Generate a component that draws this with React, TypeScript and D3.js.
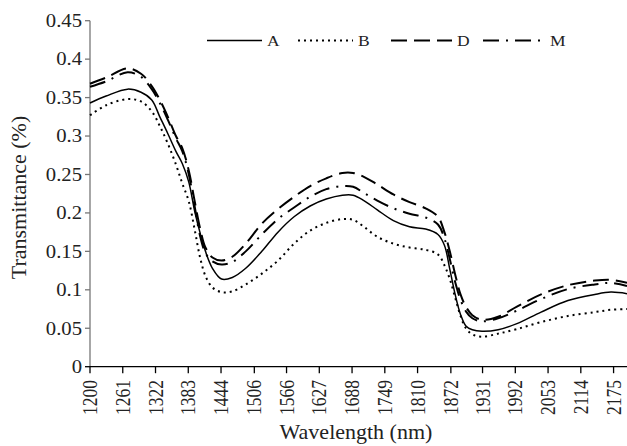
import React from "react";
import * as d3 from "d3";

const wavelengths = [1200, 1230, 1270, 1295, 1315, 1330, 1345, 1360, 1372, 1384, 1395, 1405, 1415, 1428, 1445, 1465, 1490, 1520, 1550, 1580, 1610, 1640, 1670, 1690, 1710, 1735, 1765, 1795, 1825, 1848, 1860, 1870, 1880, 1890, 1900, 1912, 1930, 1960, 1995, 2040, 2090, 2140, 2170, 2200];

const seriesA = [0.343, 0.352, 0.361, 0.357, 0.347, 0.325, 0.303, 0.280, 0.264, 0.240, 0.202, 0.174, 0.150, 0.128, 0.114, 0.116, 0.128, 0.150, 0.175, 0.195, 0.209, 0.218, 0.223, 0.223, 0.216, 0.204, 0.190, 0.182, 0.179, 0.172, 0.158, 0.127, 0.094, 0.068, 0.053, 0.048, 0.046, 0.048, 0.056, 0.071, 0.086, 0.094, 0.097, 0.095];
const seriesB = [0.327, 0.340, 0.348, 0.345, 0.332, 0.313, 0.290, 0.263, 0.238, 0.215, 0.178, 0.142, 0.118, 0.103, 0.097, 0.098, 0.107, 0.121, 0.138, 0.160, 0.177, 0.187, 0.192, 0.191, 0.182, 0.169, 0.160, 0.155, 0.152, 0.146, 0.132, 0.114, 0.090, 0.066, 0.050, 0.042, 0.039, 0.043, 0.049, 0.058, 0.066, 0.071, 0.074, 0.075];
const seriesD = [0.368, 0.376, 0.388, 0.381, 0.365, 0.347, 0.325, 0.300, 0.284, 0.255, 0.215, 0.180, 0.155, 0.142, 0.138, 0.143, 0.160, 0.186, 0.205, 0.221, 0.235, 0.245, 0.252, 0.252, 0.247, 0.237, 0.224, 0.214, 0.206, 0.195, 0.175, 0.150, 0.120, 0.094, 0.078, 0.067, 0.061, 0.065, 0.078, 0.094, 0.106, 0.112, 0.113, 0.109];
const seriesM = [0.364, 0.371, 0.383, 0.377, 0.361, 0.343, 0.321, 0.297, 0.280, 0.250, 0.208, 0.170, 0.148, 0.137, 0.133, 0.136, 0.150, 0.172, 0.192, 0.207, 0.221, 0.231, 0.235, 0.234, 0.226, 0.216, 0.206, 0.199, 0.194, 0.185, 0.167, 0.140, 0.110, 0.087, 0.072, 0.063, 0.059, 0.063, 0.073, 0.088, 0.101, 0.107, 0.109, 0.105];

const seriesNames = ["A", "B", "D", "M"];
const xTicks = [1200, 1261, 1322, 1383, 1444, 1506, 1566, 1627, 1688, 1749, 1810, 1872, 1931, 1992, 2053, 2114, 2175];
const yTicks = [0, 0.05, 0.1, 0.15, 0.2, 0.25, 0.3, 0.35, 0.4, 0.45];
const yTickLabels = ["0", "0.05", "0.1", "0.15", "0.2", "0.25", "0.3", "0.35", "0.4", "0.45"];

const W = 627;
const H = 446;
const FONT = "'Liberation Serif', 'Times New Roman', serif";

const styles: Record<string, { dash: string; width: number }> = {
  A: { dash: "none", width: 1.5 },
  B: { dash: "2,4", width: 2 },
  D: { dash: "16,7", width: 2 },
  M: { dash: "16,7,2,7", width: 2 },
};

export default function App() {
  const x = d3.scaleLinear().domain([1200, 2200]).range([90, 627]);
  const y = d3.scaleLinear().domain([0, 0.45]).range([366.7, 20.7]);
  const data: Record<string, number[]> = { A: seriesA, B: seriesB, D: seriesD, M: seriesM };
  const line = d3
    .line<number>()
    .x((_, i) => x(wavelengths[i]))
    .y((d) => y(d))
    .curve(d3.curveCatmullRom.alpha(0.5));

  const legendX = [207, 298, 391, 483];
  const legendLen = [55, 55, 61, 62];
  const legendY = 40.5;

  return (
    <svg width={W} height={H} style={{ position: "absolute", left: 0, top: 0, background: "#fff", fontFamily: FONT }}>
      <rect x={0} y={0} width={W} height={H} fill="#fff" />
      <line x1={90} x2={90} y1={y(0.45)} y2={y(0)} stroke="#777" strokeWidth={1.3} />
      {yTicks.map((t, i) => (
        <g key={"yt" + i}>
          <line x1={85} x2={90} y1={y(t)} y2={y(t)} stroke={i === 0 ? "#000" : "#777"} strokeWidth={1.3} />
          <text
            transform={`translate(82,${y(t)}) scale(1.15,1)`}
            textAnchor="end"
            dy="0.35em"
            fontSize={18}
            fill="#222"
            style={{ fontFamily: FONT }}
          >
            {yTickLabels[i]}
          </text>
        </g>
      ))}
      <line x1={90} x2={627} y1={y(0)} y2={y(0)} stroke="#000" strokeWidth={1.3} />
      {xTicks.map((t) => (
        <g key={"xt" + t}>
          <line x1={x(t)} x2={x(t)} y1={y(0)} y2={y(0) + 6.5} stroke="#000" strokeWidth={1.3} />
          <text
            transform={`translate(${x(t)},380) scale(1.15,1) rotate(-90)`}
            textAnchor="end"
            dy="0.35em"
            fontSize={17.5}
            fill="#222"
            style={{ fontFamily: FONT }}
          >
            {t}
          </text>
        </g>
      ))}
      <text x={356} y={439} textAnchor="middle" fontSize={22} fill="#222" style={{ fontFamily: FONT }}>
        Wavelength (nm)
      </text>
      <text transform="translate(26,197.5) rotate(-90)" textAnchor="middle" fontSize={22} fill="#222" style={{ fontFamily: FONT }}>
        Transmittance (%)
      </text>
      {seriesNames.map((n) => (
        <path
          key={n}
          d={line(data[n]) || ""}
          fill="none"
          stroke="#000"
          strokeWidth={styles[n].width}
          strokeDasharray={styles[n].dash}
        />
      ))}
      {seriesNames.map((n, i) => (
        <g key={"lg" + n}>
          <line
            x1={legendX[i]}
            x2={legendX[i] + legendLen[i]}
            y1={legendY}
            y2={legendY}
            stroke="#000"
            strokeWidth={styles[n].width}
            strokeDasharray={styles[n].dash}
          />
          <text
            transform={`translate(${legendX[i] + legendLen[i] + 5},${legendY + 5.5}) scale(1.13,1)`}
            fontSize={15.5}
            fill="#222"
            style={{ fontFamily: FONT }}
          >
            {n}
          </text>
        </g>
      ))}
    </svg>
  );
}
